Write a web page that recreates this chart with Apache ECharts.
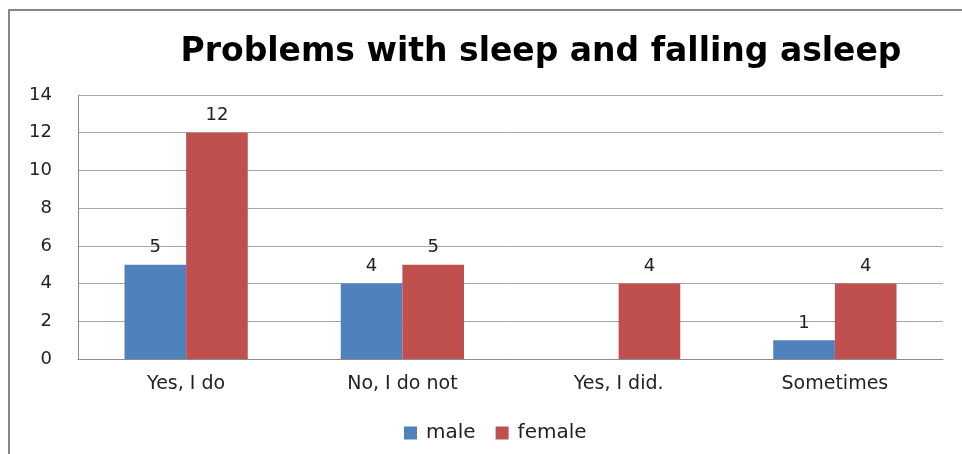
<!DOCTYPE html>
<html><head><meta charset="utf-8">
<script src="https://cdn.jsdelivr.net/npm/echarts@6/dist/echarts.min.js"></script>
<style>html,body{margin:0;padding:0;background:#fff}#c{width:962px;height:454px}</style>
</head><body><div id="c"></div>
<script>
const categories = ["Yes, I do", "No, I do not", "Yes, I did.", "Sometimes"];
const male = [5, 4, null, 1];
const female = [12, 5, 4, 4];
const yTicks = { min: 0, max: 14, interval: 2 };
const FONT = "DejaVu Sans";

const chart = echarts.init(document.getElementById('c'), null, { renderer: 'canvas' });
chart.setOption({
  animation: false,
  backgroundColor: '#fff',
  graphic: [{
    type: 'rect', shape: { x: 9, y: 10, width: 1000, height: 500 },
    style: { fill: 'none', stroke: '#868686', lineWidth: 2 }, silent: true
  }],
  title: {
    text: 'Problems with sleep and falling asleep',
    left: 536, top: 31, textAlign: 'center',
    textStyle: { fontFamily: FONT, fontWeight: 'bold', fontSize: 33, color: '#000' }
  },
  legend: {
    left: 399, top: 418, itemWidth: 13, itemHeight: 13, itemGap: 20,
    icon: 'rect',
    textStyle: { fontFamily: FONT, fontSize: 20, color: '#222', padding: [0, 0, 0, 4] },
    data: ['male', 'female']
  },
  grid: { left: 78, right: 19, top: 95, bottom: 95, containLabel: false },
  xAxis: {
    type: 'category', data: categories,
    axisLine: { lineStyle: { color: '#8c8c8c', width: 1 } },
    axisTick: { show: false },
    axisLabel: { fontFamily: FONT, fontSize: 19, color: '#222', margin: 16 }
  },
  yAxis: {
    type: 'value', min: yTicks.min, max: yTicks.max, interval: yTicks.interval,
    axisLine: { show: true, lineStyle: { color: '#8c8c8c', width: 1 } },
    axisTick: { show: false },
    splitLine: { lineStyle: { color: '#a6a6a6', width: 1 } },
    axisLabel: { fontFamily: FONT, fontSize: 18, color: '#222', margin: 26 }
  },
  series: [
    { name: 'male', type: 'bar', data: male, barGap: '0%', barCategoryGap: '43%',
      itemStyle: { color: '#4F81BD' },
      label: { show: true, position: 'top', distance: 8, fontFamily: FONT, fontSize: 18, color: '#222' } },
    { name: 'female', type: 'bar', data: female, barGap: '0%', barCategoryGap: '43%',
      itemStyle: { color: '#C0504D' },
      label: { show: true, position: 'top', distance: 8, fontFamily: FONT, fontSize: 18, color: '#222' } }
  ]
});
</script></body></html>
